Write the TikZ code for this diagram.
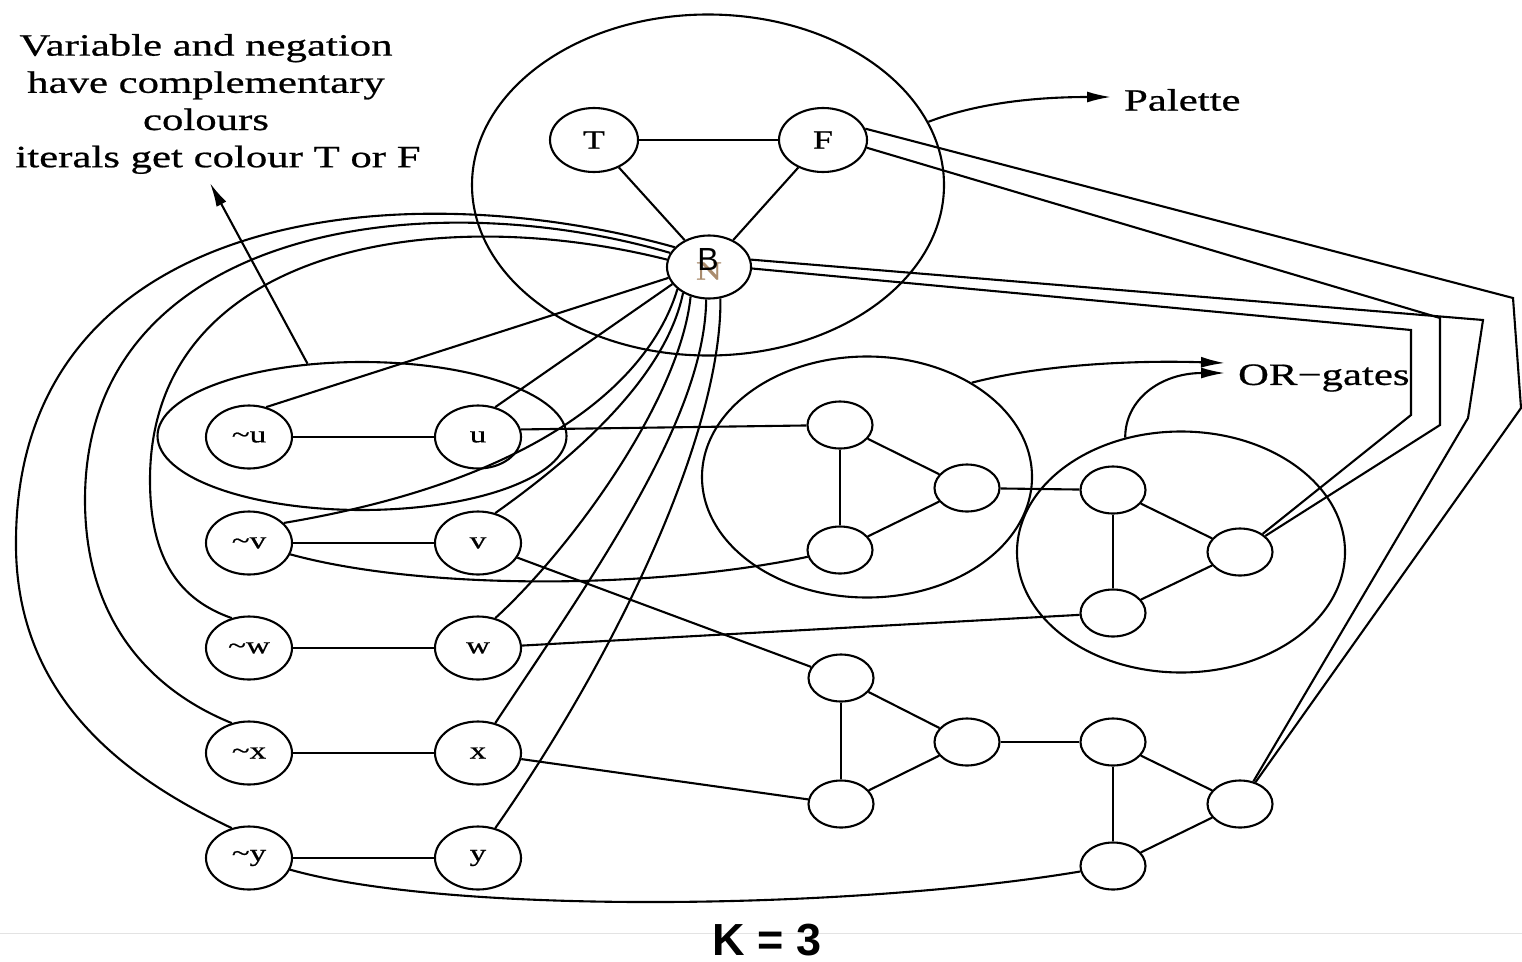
\documentclass[tikz,border=0pt]{standalone}
\usepackage{fontspec}
\setmainfont{Liberation Serif}
\newfontfamily\serifw[FakeStretch=1.38,FakeBold=0.7]{Liberation Serif}
\newfontfamily\sansf{Liberation Sans}
\usetikzlibrary{shapes.geometric,arrows.meta}
\definecolor{ncol}{RGB}{170,140,110}
\begin{document}
\begin{tikzpicture}[x=1pt,y=-1pt,line width=2.1pt,
  lit/.style={draw,ellipse,minimum width=86pt,minimum height=63pt,inner sep=0pt,
    font=\serifw\fontsize{24}{24}\selectfont},
  colnode/.style={draw,ellipse,minimum width=88pt,minimum height=64pt,inner sep=0pt,
    font=\serifw\fontsize{26}{26}\selectfont},
  gate/.style={draw,ellipse,minimum width=65pt,minimum height=47pt,inner sep=0pt},
  group/.style={draw,ellipse,inner sep=0pt},
  arr/.style={-{Latex[length=24pt,width=11pt]}},
  lbl/.style={font=\serifw\fontsize{31}{37.2}\selectfont,inner sep=0pt},
]
\useasboundingbox (0,0) rectangle (1522,961);
\draw[gray!22,line width=1pt] (0,933) -- (1522,933);

% groups
\node[group,minimum width=472pt,minimum height=341pt] (palc) at (708,185) {};
\node[group,minimum width=409pt,minimum height=148pt] (ann) at (362,436) {};
\node[group,minimum width=330pt,minimum height=241pt] (g1) at (867,477) {};
\node[group,minimum width=328pt,minimum height=241pt] (g2) at (1181,552) {};

% palette
\node[colnode] (T) at (594,140) {T};
\node[colnode] (F) at (823,140) {F};
\node[draw,ellipse,minimum width=84pt,minimum height=63pt,inner sep=0pt] (B) at (709,267) {};
\node[text=ncol,font=\serifw\fontsize{26}{26}\selectfont,inner sep=0pt] (Nlab) at (709,271) {N};
\node[font=\sansf\fontsize{32}{32}\selectfont,inner sep=0pt] (Blab) at (708,259) {B};

% literals
\node[lit] (nu) at (249,437) {\textasciitilde u};
\node[lit] (u)  at (478,437) {u};
\node[lit] (nv) at (249,543) {\textasciitilde v};
\node[lit] (v)  at (478,543) {v};
\node[lit] (nw) at (249,648) {\textasciitilde w};
\node[lit] (w)  at (478,648) {w};
\node[lit] (nx) at (249,753) {\textasciitilde x};
\node[lit] (x)  at (478,753) {x};
\node[lit] (ny) at (249,858) {\textasciitilde y};
\node[lit] (y)  at (478,858) {y};

% gates
\node[gate] (a1) at (840,425) {};
\node[gate] (a2) at (840,550) {};
\node[gate] (a3) at (967,488) {};
\node[gate] (b1) at (1113,490) {};
\node[gate] (b2) at (1113,613) {};
\node[gate] (b3) at (1240,552) {};
\node[gate] (c1) at (841,678) {};
\node[gate] (c2) at (841,804) {};
\node[gate] (c3) at (967,742) {};
\node[gate] (d1) at (1113,742) {};
\node[gate] (d2) at (1113,866) {};
\node[gate] (d3) at (1240,804) {};

% texts
\node[lbl,align=center] (note) at (206,104) {Variable and negation\\have complementary\\colours\\\hspace*{24pt}iterals get colour T or F};
\node[lbl,anchor=west] (paltext) at (1123,100) {Palette};
\node[lbl,anchor=west] (ortext) at (1237,378) {OR−gates};
\node[font=\sansf\bfseries\fontsize{45}{45}\selectfont,anchor=base,inner sep=0pt] (k) at (767,955) {K = 3};

% palette triangle
\draw (T) -- (F);
\draw (T) -- (B);
\draw (F) -- (B);

% literal pairs
\draw (nu) -- (u);
\draw (nv) -- (v);
\draw (nw) -- (w);
\draw (nx) -- (x);
\draw (ny) -- (y);

% B to literals
\draw (B.195) -- (nu.60);
\draw (B.205) -- (u.60);
\draw (nv.30) .. controls (540,480) and (650,380) .. (B.215);
\draw (v.60) .. controls (570,460) and (665,380) .. (B.225);
\draw (w.60) .. controls (570,550) and (680,400) .. (B.238);
\draw (x.60) .. controls (590,580) and (705,420) .. (B.265);
\draw (y.60) .. controls (620,650) and (722,430) .. (B.290);
\draw (B.150) .. controls (400,170) and (18,210) .. (16,540) .. controls (14,700) and (130,780) .. (ny.120);
\draw (B.160) .. controls (420,180) and (85,230) .. (85,500) .. controls (85,620) and (150,690) .. (nx.120);
\draw (B.170) .. controls (430,200) and (150,250) .. (150,480) .. controls (150,560) and (180,600) .. (nw.120);

% gate internals
\foreach \p in {a,b,c,d}{
  \draw (\p1) -- (\p2);
  \draw (\p1) -- (\p3);
  \draw (\p2) -- (\p3);
}

% literals to gates
\draw (u.10) -- (a1);
\draw (nv) .. controls (420,590) and (650,590) .. (a2);
\draw (a3) -- (b1);
\draw (w) -- (b2);
\draw (v) -- (c1);
\draw (x) -- (c2);
\draw (c3) -- (d1);
\draw (ny) .. controls (450,915) and (850,910) .. (d2);

% palette to outputs
\draw (F.15) -- (1513,298) -- (1521,408) -- (d3);
\draw (F.-10) -- (1440,318) -- (1440,425) -- (b3);
\draw (B.10) -- (1483,320) -- (1468,418) -- (d3);
\draw (B.-2) -- (1411,330) -- (1411,415) -- (b3);

% annotation arrows
\coordinate (annTip) at (210,183);
\draw[arr] (ann.127) -- (annTip);
\coordinate (palTip) at (1111,97);
\draw[arr] (palc.16) .. controls (980,102) and (1040,97) .. (palTip);
\coordinate (orTipA) at (1225,363);
\coordinate (orTipB) at (1225,373);
\draw[arr] (g1.42) .. controls (1040,365) and (1130,360) .. (orTipA);
\draw[arr] (g2.116) .. controls (1125,400) and (1160,373) .. (orTipB);
\end{tikzpicture}
\end{document}
